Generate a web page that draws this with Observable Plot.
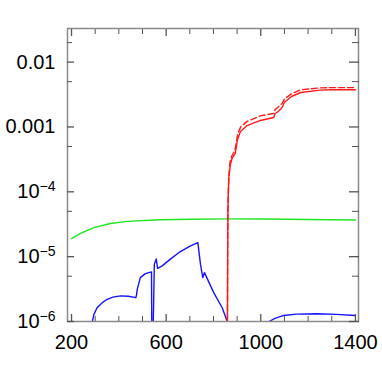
<!DOCTYPE html>
<html><head><meta charset="utf-8">
<script src="https://cdn.jsdelivr.net/npm/d3@7"></script>
<script src="https://cdn.jsdelivr.net/npm/@observablehq/plot@0.6"></script>
<style>body{margin:0;background:#fff}</style>
</head><body><div id="chart"></div>
<script>
// Green series
const greenX = [200, 240, 295, 365, 435, 575, 715, 860, 1000, 1200, 1400];
const greenY = [1.9e-5, 2.3e-5, 2.8e-5, 3.25e-5, 3.5e-5, 3.7e-5, 3.78e-5, 3.82e-5, 3.8e-5, 3.75e-5, 3.68e-5];
// Blue series (values below 1e-6 fall under the frame and are clipped)
const blueX = [282, 288, 295, 308, 330, 351, 375, 407, 440, 472, 475, 478, 491, 512, 538, 540, 543, 550, 558, 564, 583, 618, 660, 703, 734, 745, 755, 762, 801, 837, 858, 862, 1025, 1035, 1060, 1097, 1150, 1238, 1320, 1400];
const blueY = [7e-7, 1e-6, 1.3e-6, 1.63e-6, 1.95e-6, 2.2e-6, 2.38e-6, 2.48e-6, 2.45e-6, 2.33e-6, 2.6e-6, 3.15e-6, 4.75e-6, 5.48e-6, 5.82e-6, 3e-7, 3e-7, 7.6e-6, 9.2e-6, 6.6e-6, 7.2e-6, 9.15e-6, 1.2e-5, 1.47e-5, 1.65e-5, 7.65e-6, 4.75e-6, 5.68e-6, 2.79e-6, 1.63e-6, 1e-6, 7e-7, 7e-7, 1e-6, 1.12e-6, 1.24e-6, 1.3e-6, 1.32e-6, 1.29e-6, 1.24e-6];
// Red solid series
const redX = [858, 859, 860, 861, 863, 865, 872, 879, 892, 897, 901, 914, 942, 998, 1055, 1060, 1075, 1090, 1100, 1130, 1168, 1250, 1300, 1400];
const redY = [3e-7, 1e-6, 1e-5, 5e-5, 1e-4, 1.67e-4, 2.69e-4, 3.3e-4, 3.9e-4, 5e-4, 6.3e-4, 8.5e-4, 1.05e-3, 1.26e-3, 1.40e-3, 1.6e-3, 1.75e-3, 2.0e-3, 2.4e-3, 2.95e-3, 3.4e-3, 3.7e-3, 3.75e-3, 3.75e-3];
// Red dashed series
const redDashX = [858, 859, 860, 861, 863, 865, 870, 878, 890, 897, 901, 914, 942, 998, 1055, 1060, 1075, 1090, 1100, 1130, 1168, 1250, 1300, 1400];
const redDashY = [3e-7, 1e-6, 1e-5, 5e-5, 1.05e-4, 1.8e-4, 2.9e-4, 3.6e-4, 4.3e-4, 5.8e-4, 7.4e-4, 9.9e-4, 1.22e-3, 1.48e-3, 1.62e-3, 1.85e-3, 2.05e-3, 2.3e-3, 2.7e-3, 3.25e-3, 3.74e-3, 4.0e-3, 4.05e-3, 4.05e-3];
// Ticks
const xMajor = [200, 600, 1000, 1400];
const xMinor = [300, 400, 500, 700, 800, 900, 1100, 1200, 1300];
const yMajor = [1e-6, 1e-5, 1e-4, 1e-3, 1e-2];
const yMinor = [5e-6, 5e-5, 5e-4, 5e-3, 2e-2];

const rows = (xs, ys) => xs.map((x, i) => ({x, y: ys[i]}));
const fmtY = d => d >= 1e-3 ? String(d) : `10^−${-Math.round(Math.log10(d))}`;
const tickCol = "#555";
const font = "'Liberation Sans', Arial, Helvetica, sans-serif";
const tk = (fn, vals, o) => fn(vals, {label: null, tickFormat: () => "", stroke: tickCol, ...o});

const plot = Plot.plot({
  width: 382, height: 382,
  marginLeft: 67, marginRight: 24, marginTop: 28, marginBottom: 61,
  style: {fontFamily: font, background: "#fff"},
  x: {domain: [183, 1413], axis: null},
  y: {type: "log", domain: [1e-6, 0.033], axis: null},
  marks: [
    Plot.line(rows(greenX, greenY), {x: "x", y: "y", stroke: "#22e522", strokeWidth: 1.4, clip: true}),
    Plot.line(rows(blueX, blueY), {x: "x", y: "y", stroke: "#1414ff", strokeWidth: 1.4, clip: true}),
    Plot.line(rows(redDashX, redDashY), {x: "x", y: "y", stroke: "#ff1a1a", strokeWidth: 1.4, strokeDasharray: "6,3", clip: true}),
    Plot.line(rows(redX, redY), {x: "x", y: "y", stroke: "#ff1a1a", strokeWidth: 1.4, clip: true}),
    Plot.frame({stroke: "#8a8a8a", strokeWidth: 1.5}),
    // inward ticks
    tk(Plot.axisX, xMinor, {anchor: "bottom", tickSize: -5}),
    tk(Plot.axisX, xMajor, {anchor: "bottom", tickSize: -7, strokeWidth: 1.3}),
    tk(Plot.axisX, xMinor, {anchor: "top", tickSize: -5}),
    tk(Plot.axisX, xMajor, {anchor: "top", tickSize: -7, strokeWidth: 1.3}),
    tk(Plot.axisY, yMinor, {anchor: "left", tickSize: -5}),
    tk(Plot.axisY, yMajor, {anchor: "left", tickSize: -7, strokeWidth: 1.3}),
    tk(Plot.axisY, yMinor, {anchor: "right", tickSize: -7}),
    tk(Plot.axisY, yMajor, {anchor: "right", tickSize: -10, strokeWidth: 1.3}),
    // labels
    Plot.axisX(xMajor, {anchor: "bottom", label: null, tickSize: 0, tickPadding: 13, fontSize: 20, fill: "#000", tickFormat: d => String(d)}),
    Plot.axisY(yMajor, {anchor: "left", label: null, tickSize: 0, tickPadding: 12, fontSize: 20, fill: "#000", tickFormat: fmtY})
  ]
});
document.getElementById("chart").appendChild(plot);

// render "10^−k" labels with a real superscript
plot.querySelectorAll("text").forEach(t => {
  const m = /^10\^(.+)$/.exec(t.textContent);
  if (!m) return;
  t.textContent = "10";
  const s = document.createElementNS("http://www.w3.org/2000/svg", "tspan");
  s.setAttribute("dy", "-0.5em");
  s.setAttribute("font-size", "14");
  s.textContent = m[1];
  t.appendChild(s);
});
</script>
</body></html>
